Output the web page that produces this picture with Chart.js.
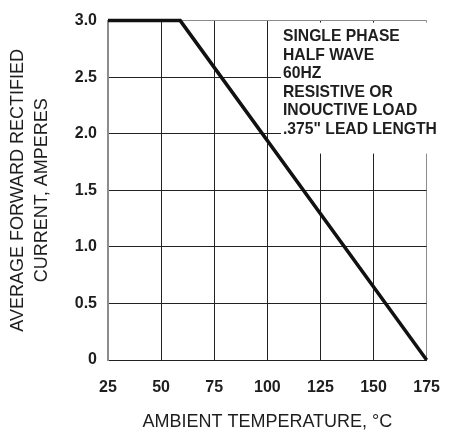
<!DOCTYPE html>
<html>
<head>
<meta charset="utf-8">
<script src="https://cdn.jsdelivr.net/npm/chart.js@4/dist/chart.umd.min.js"></script>
<style>
  html, body { margin: 0; padding: 0; background: #fff; }
  #wrap { width: 458px; height: 434px; position: relative; }
</style>
</head>
<body>
<div id="wrap"><canvas id="myChart"></canvas></div>
<script>
// derating curve
var temps = [25, 59, 175];
var current = [3.0, 3.0, 0];
var xTickLabels = ['25', '50', '75', '100', '125', '150', '175'];
var yTickLabels = ['0', '0.5', '1.0', '1.5', '2.0', '2.5', '3.0'];
var noteLines = [
    'SINGLE PHASE',
    'HALF WAVE',
    '60HZ',
    'RESISTIVE OR',
    'INOUCTIVE LOAD',
    '.375" LEAD LENGTH'
];

var FONT = '"Liberation Sans", Arial, Helvetica, sans-serif';
var GRID = '#222';
var EDGE = '#8c8c8c';

// white box with the test conditions, top right of the plot
var notePlugin = {
    id: 'note',
    beforeDatasetsDraw: function(chart) {
        var ca = chart.chartArea;
        var c = chart.ctx;
        c.save();
        c.fillStyle = '#fff';
        c.fillRect(ca.left + 173, ca.top + 2, 159, 131);
        c.fillStyle = '#1e1e1e';
        c.font = 'bold 15.7px ' + FONT;
        c.textAlign = 'left';
        c.textBaseline = 'middle';
        for (var i = 0; i < noteLines.length; i++) {
            c.fillText(noteLines[i], ca.left + 175, ca.top + 16 + i * 18.6);
        }
        c.restore();
    }
};

const ctx = document.getElementById('myChart');
new Chart(ctx, {
    type: 'line',
    data: {
        labels: temps,
        datasets: [{
            data: temps.map(function(t, i) { return {x: t, y: current[i]}; }),
            borderColor: '#111',
            borderWidth: 3.5,
            pointRadius: 0,
            tension: 0,
            clip: false
        }]
    },
    options: {
        responsive: true,
        maintainAspectRatio: false,
        animation: false,
        events: [],
        layout: { padding: { left: 0, right: 15, top: 14, bottom: 0 } },
        plugins: {
            legend: { display: false },
            tooltip: { enabled: false }
        },
        scales: {
            x: {
                type: 'linear',
                min: 25,
                max: 175,
                afterFit: function(s) { s.height = 74; },
                ticks: {
                    stepSize: 25,
                    padding: 18,
                    color: '#1e1e1e',
                    font: { family: FONT, size: 16, weight: 'bold' },
                    callback: function(v) { return xTickLabels[(v - 25) / 25]; }
                },
                grid: {
                    drawTicks: false,
                    lineWidth: 1,
                    color: function(c) { return c.tick && c.tick.value === 175 ? EDGE : GRID; }
                },
                border: { color: GRID, width: 1 },
                title: {
                    display: true,
                    text: 'AMBIENT TEMPERATURE, °C',
                    color: '#1e1e1e',
                    font: { family: FONT, size: 18, weight: 'normal', lineHeight: 1.2 },
                    padding: { top: 0, bottom: 1 }
                }
            },
            y: {
                min: 0,
                max: 3,
                afterFit: function(s) { s.width = 108; },
                ticks: {
                    stepSize: 0.5,
                    padding: 11,
                    color: '#1e1e1e',
                    font: { family: FONT, size: 16, weight: 'bold' },
                    callback: function(v) { return yTickLabels[Math.round(v * 2)]; }
                },
                grid: {
                    drawTicks: false,
                    lineWidth: 1,
                    color: function(c) { return c.tick && c.tick.value === 3 ? EDGE : GRID; }
                },
                border: { color: EDGE, width: 2 },
                title: {
                    display: true,
                    text: ['AVERAGE FORWARD RECTIFIED', 'CURRENT, AMPERES'],
                    color: '#1e1e1e',
                    font: { family: FONT, size: 18, weight: 'normal', lineHeight: 1.333 },
                    padding: { top: 6, bottom: 0 }
                }
            }
        }
    },
    plugins: [notePlugin]
});
</script>
</body>
</html>
